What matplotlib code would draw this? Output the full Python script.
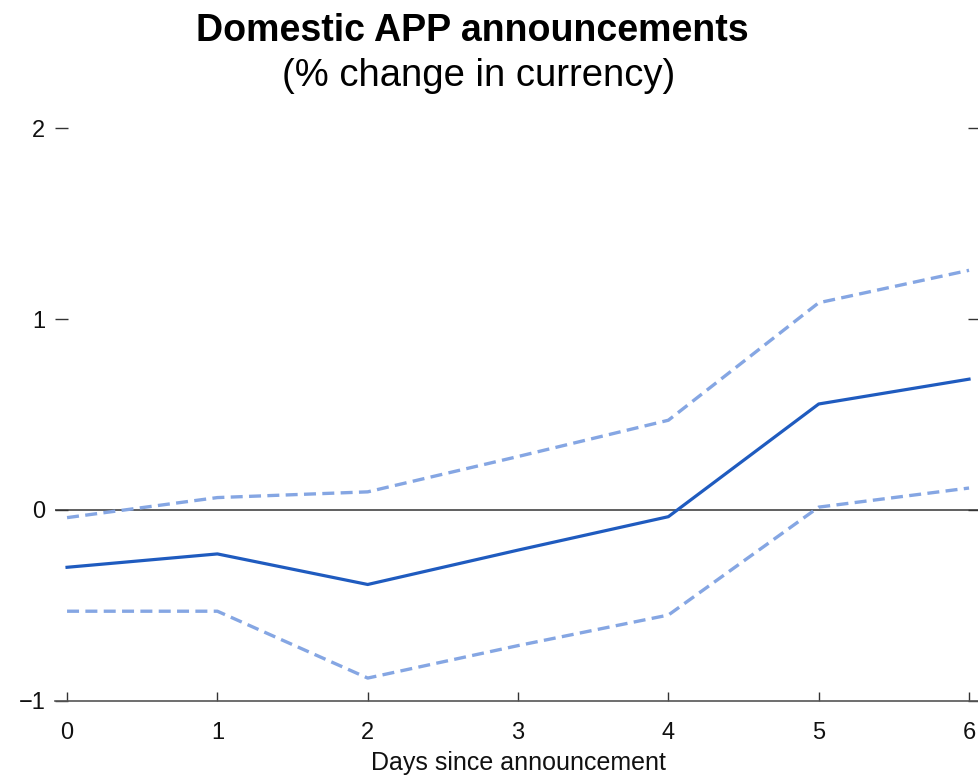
import matplotlib
matplotlib.use("Agg")
import matplotlib.pyplot as plt

plt.rcParams["font.family"] = ["Liberation Sans", "DejaVu Sans"]

# Days since the announcement
days = [0, 1, 2, 3, 4, 5, 6]
# Point estimate of the currency response (%)
estimate = [-0.30, -0.23, -0.39, -0.21, -0.035, 0.555, 0.685]
# Upper and lower confidence bounds (%)
upper = [-0.04, 0.065, 0.095, 0.28, 0.47, 1.085, 1.255]
lower = [-0.53, -0.53, -0.88, -0.71, -0.55, 0.015, 0.115]

y_ticks = [-1, 0, 1, 2]
x_ticks = days

fig = plt.figure(figsize=(9.79, 7.82), dpi=100)
ax = fig.add_axes([0.0562, 0.1036, 0.9459, 0.7327])

solid_color = "#1f5bbf"
band_color = "#85a6e3"

ax.axhline(0, color="#444444", lw=1.2, zorder=1)
ax.plot(days, upper, color=band_color, lw=2.4, dashes=(3.6, 1.9), zorder=2)
ax.plot(days, lower, color=band_color, lw=2.4, dashes=(3.6, 1.9), zorder=2)
ax.plot(days, estimate, color=solid_color, lw=2.3, zorder=3)

ax.set_xlim(-0.08, 6.08)
ax.set_ylim(-1, 2)
ax.set_xticks(x_ticks)
ax.set_yticks(y_ticks)

for side in ("left", "right", "top"):
    ax.spines[side].set_visible(False)
ax.spines["bottom"].set_color("#555555")
ax.spines["bottom"].set_linewidth(1.2)

ax.tick_params(axis="y", which="both", direction="in", length=9.5, width=1.0,
               color="#333333", left=True, right=True, labelsize=17, pad=7,
               labelcolor="#111111")
ax.tick_params(axis="x", direction="in", length=6.5, width=1.0,
               color="#333333", labelsize=17, pad=15, labelcolor="#111111")

ax.set_xlabel("Days since announcement", fontsize=18, color="#111111", labelpad=5)

fig.text(0.482, 0.960, "Domestic APP announcements", ha="center", va="center",
         fontsize=27, fontweight="bold", color="black")
fig.text(0.489, 0.903, "(% change in currency)", ha="center", va="center",
         fontsize=27.5, color="black")

fig.savefig("out.png", dpi=100)
